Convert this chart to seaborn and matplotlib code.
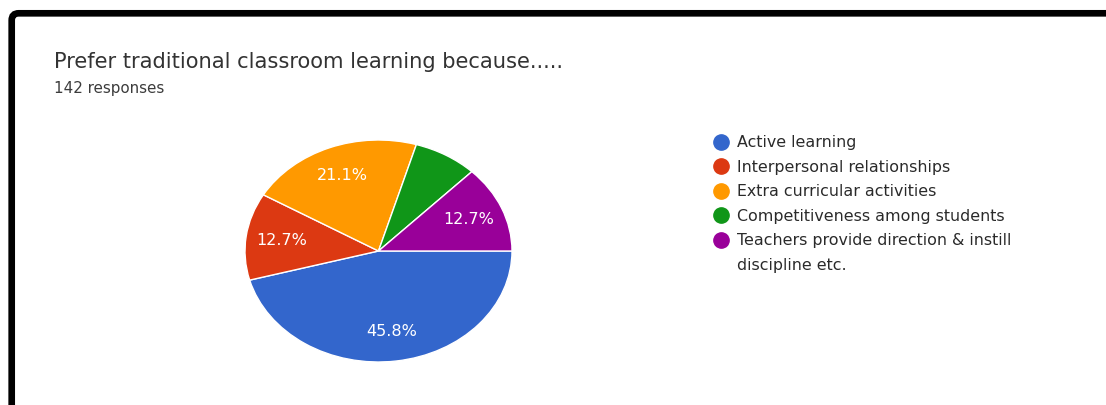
import matplotlib
matplotlib.use("Agg")
import matplotlib.pyplot as plt
from matplotlib.lines import Line2D
from matplotlib.patches import FancyBboxPatch
from matplotlib.transforms import IdentityTransform
import seaborn as sns

# Survey answers (142 responses)
categories = [
    "Active learning",
    "Interpersonal relationships",
    "Extra curricular activities",
    "Competitiveness among students",
    "Teachers provide direction & instill",
]
label_wrap = "discipline etc."
counts = [65, 18, 30, 11, 18]
colors = ["#3366CC", "#DC3912", "#FF9900", "#109618", "#990099"]
title = "Prefer traditional classroom learning because....."
subtitle = "142 responses"

sns.set_theme(style="white")
plt.rcParams["font.family"] = ["DejaVu Sans"]
palette = sns.color_palette(colors)

W, H, DPI = 1106, 405, 100
fig = plt.figure(figsize=(W / DPI, H / DPI), dpi=DPI)
fig.patch.set_facecolor("white")


def px_box(left, top, right, bottom):
    return [left / W, 1 - bottom / H, (right - left) / W, (bottom - top) / H]


# Pie: slices run clockwise from 3 o'clock
ax = fig.add_axes(px_box(245, 140, 512, 362))


def pct_label(p):
    return f"{p:.1f}%" if p >= 10 else ""


wedges, _, autotexts = ax.pie(
    counts,
    colors=palette,
    startangle=0,
    counterclock=False,
    autopct=pct_label,
    pctdistance=0.73,
    wedgeprops=dict(edgecolor="white", linewidth=1.0),
    textprops=dict(color="white", fontsize=11.5),
)
ax.set_aspect("auto")
ax.set_xlim(-1.0, 1.0)
ax.set_ylim(-1.0, 1.0)
ax.axis("off")

# Title block
fig.text(54 / W, 1 - 68.5 / H, title, fontsize=15.1, color="#333333",
         ha="left", va="baseline")
fig.text(54 / W, 1 - 93.5 / H, subtitle, fontsize=10.9, color="#3c3c3c",
         ha="left", va="baseline")

# Legend with round markers; wrapped label continues on its own row
handles = [
    Line2D([], [], linestyle="none", marker="o", markersize=11,
           markerfacecolor=c, markeredgecolor=c)
    for c in palette
]
handles.append(Line2D([], [], linestyle="none", marker=None))
labels = categories + [label_wrap]
leg = fig.legend(
    handles, labels,
    loc="upper left",
    bbox_to_anchor=(712.9 / W, 1 - 135.5 / H),
    bbox_transform=fig.transFigure,
    frameon=False,
    fontsize=11.4,
    handlelength=1.0,
    handletextpad=0.5,
    labelspacing=0.6,
    borderpad=0,
    borderaxespad=0,
)
for t in leg.get_texts():
    t.set_color("#2a2a2a")

# Frame around the panel
frame = FancyBboxPatch(
    (11.7, -60), 1300, (H - 13.3) + 60,
    boxstyle="round,pad=0,rounding_size=7",
    fill=False, edgecolor="black", linewidth=4.8,
    transform=IdentityTransform(), clip_on=False,
)
fig.add_artist(frame)

fig.savefig("out.png", dpi=DPI, facecolor="white")
